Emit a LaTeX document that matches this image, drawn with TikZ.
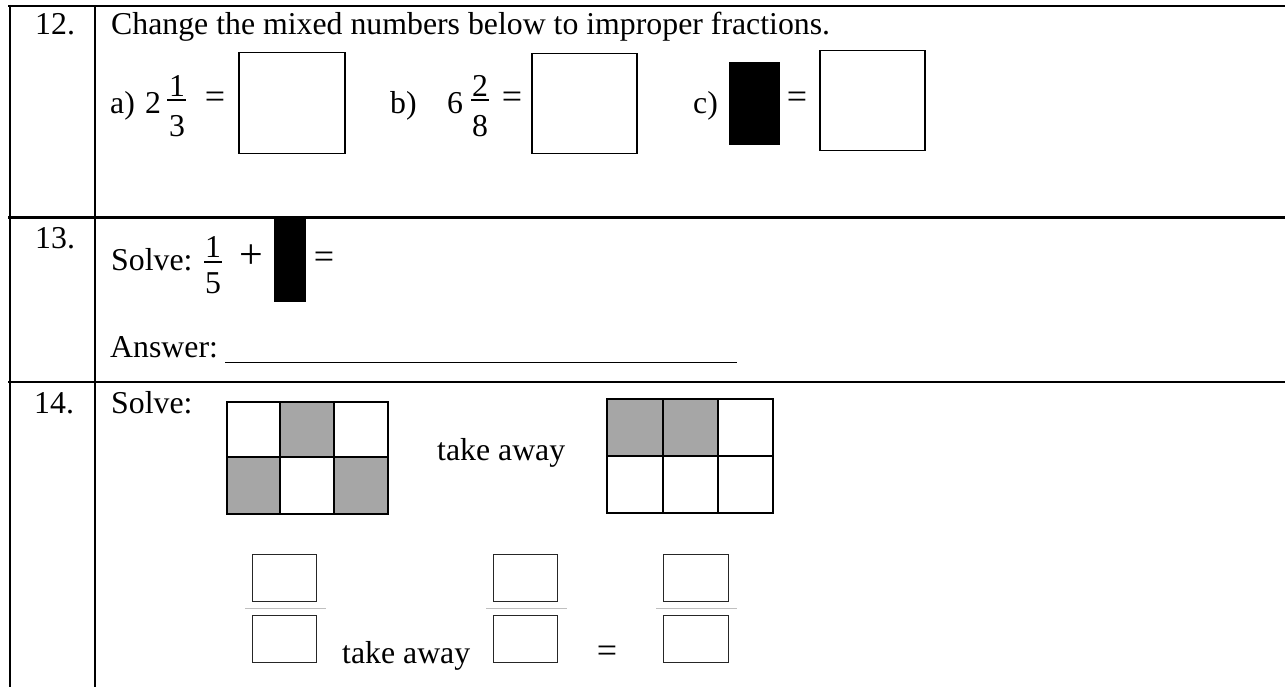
\documentclass[tikz,border=0pt]{standalone}
\usepackage{fontspec}
\setmainfont{Liberation Serif}
\usetikzlibrary{positioning,calc}
\definecolor{cellgray}{RGB}{166,166,166}
\definecolor{bargray}{RGB}{191,191,191}
\tikzset{
  txt/.style={inner sep=0pt, anchor=base west, font=\fontsize{31.8}{38}\selectfont},
  sym/.style={inner sep=0pt, anchor=center, font=\fontsize{36}{40}\selectfont},
  ansbox/.style={draw, line width=1.5pt, inner sep=0pt, anchor=north west},
  fracbox/.style={draw=black!85, line width=1.2pt, inner sep=0pt, anchor=north west, minimum width=64pt, minimum height=47pt},
  hidden/.style={fill=black, inner sep=0pt, anchor=north west},
  rule/.style={line width=2.2pt}
}

\begin{document}
\begin{tikzpicture}[x=1pt, y=-1pt]
\useasboundingbox (0,0) rectangle (1285,687);
% table
\draw[rule] (8,6) -- (1285,6);
\draw[rule] (10,5) -- (10,687);
\draw[rule] (95,5) -- (95,687);
\draw[rule] (8,217.5) -- (1285,217.5);
\draw[rule] (8,382) -- (1285,382);

% question 12
\node[txt] (q12) at (35,35) {12.};
\node[txt] (task12) at (111,35) {Change the mixed numbers below to improper fractions.};
\node[txt] (la) at (110,114) {a)};
\node[txt] (wa) at (145,114) {2};
\node[txt, anchor=base] (na) at (177,97) {1};
\node[txt, anchor=base] (da) at (177,137) {3};
\draw[line width=1.2pt] (167,100) -- (186,100);
\node[sym] (eqa) at (215,100) {=};
\node[ansbox, minimum width=106pt, minimum height=101pt] (boxa) at (238,52) {};
\node[txt] (lb) at (390,114) {b)};
\node[txt] (wb) at (447,114) {6};
\node[txt, anchor=base] (nb) at (480,97) {2};
\node[txt, anchor=base] (db) at (480,137) {8};
\draw[line width=1.2pt] (471,100) -- (489,100);
\node[sym] (eqb) at (512,100) {=};
\node[ansbox, minimum width=105pt, minimum height=100pt] (boxb) at (531,53) {};
\node[txt] (lc) at (693,114) {c)};
\node[hidden, minimum width=51pt, minimum height=83pt] (hidec) at (729,62) {};
\node[sym] (eqc) at (797,100) {=};
\node[ansbox, minimum width=105pt, minimum height=100pt] (boxc) at (819,50) {};

% question 13
\node[txt] (q13) at (35,248) {13.};
\node[txt] (solve13) at (111,270) {Solve:};
\node[txt, anchor=base] (n13) at (213,257) {1};
\node[txt, anchor=base] (d13) at (213,293) {5};
\draw[line width=1.2pt] (204,262) -- (222,262);
\node[sym, font=\fontsize{42}{46}\selectfont] (plus13) at (251,257) {+};
\node[hidden, minimum width=32pt, minimum height=84pt] (hide13) at (274,218) {};
\node[sym] (eq13) at (324,260) {=};
\node[txt] (ans13) at (110,357) {Answer:};
\draw[line width=1pt] (225,362.5) -- (737,362.5);

% question 14
\node[txt] (q14) at (34,413) {14.};
\node[txt] (solve14) at (111,413) {Solve:};
\fill[cellgray] (280,402) rectangle (334,457);
\fill[cellgray] (227,457) rectangle (280,514);
\fill[cellgray] (334,457) rectangle (388,514);
\draw[rule] (227,402) rectangle (388,514);
\draw[rule] (280,402) -- (280,514);
\draw[rule] (334,402) -- (334,514);
\draw[rule] (227,457) -- (388,457);
\node[txt] (take1) at (437,460) {take away};
\fill[cellgray] (607,399) rectangle (718,456);
\draw[rule] (607,399) rectangle (773,513);
\draw[rule] (663,399) -- (663,513);
\draw[rule] (718,399) -- (718,513);
\draw[rule] (607,456) -- (773,456);

\node[fracbox] (top1) at (252,554) {};
\node[fracbox] (bot1) at (252,615) {};
\draw[bargray, line width=1pt] (245,608) -- (326,608);
\node[txt] (take2) at (342,663) {take away};
\node[fracbox] (top2) at (493,554) {};
\node[fracbox] (bot2) at (493,615) {};
\draw[bargray, line width=1pt] (486,608) -- (567,608);
\node[sym] (eq14) at (607,654) {=};
\node[fracbox, minimum width=65pt] (top3) at (663,554) {};
\node[fracbox, minimum width=65pt] (bot3) at (663,615) {};
\draw[bargray, line width=1pt] (656,608) -- (737,608);
\end{tikzpicture}
\end{document}
